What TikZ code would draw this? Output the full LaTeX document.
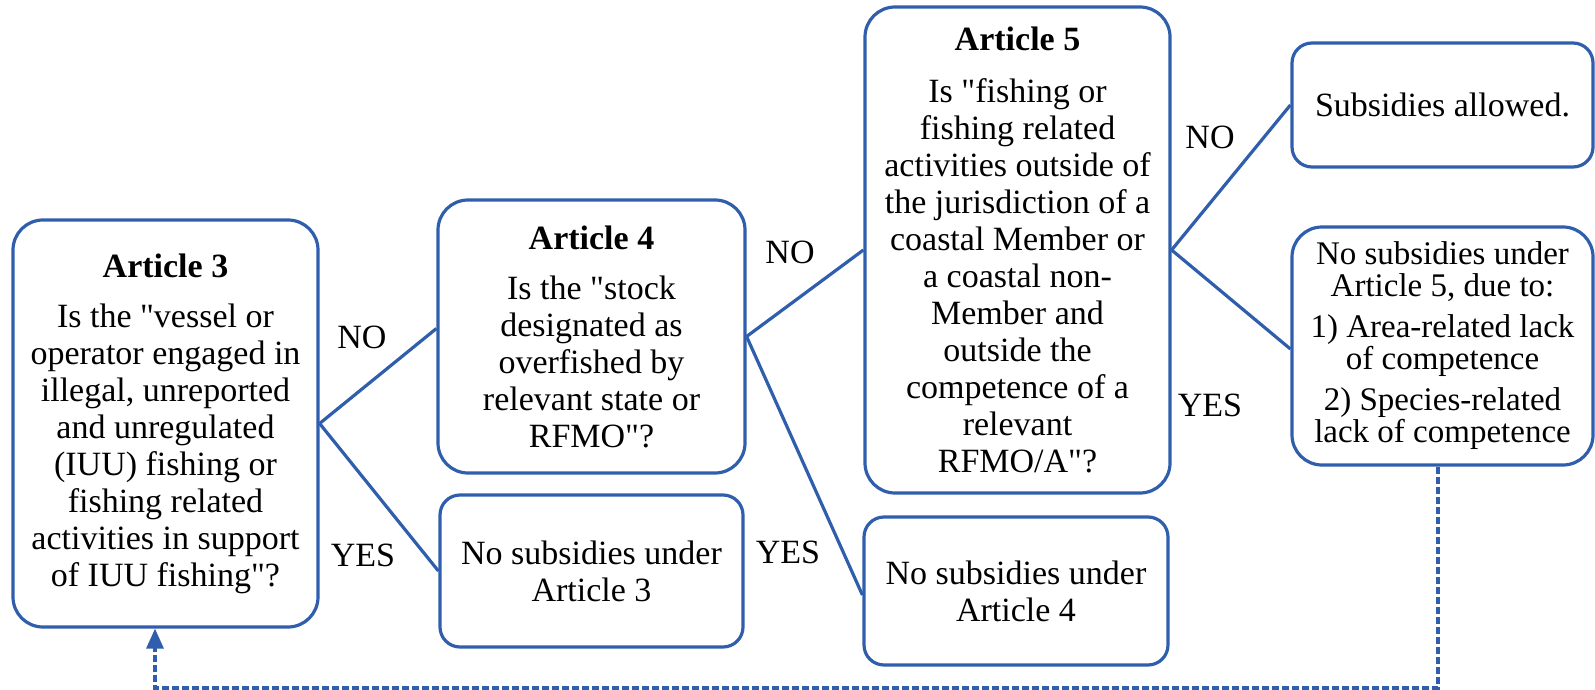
\documentclass[tikz,border=0pt]{standalone}
\usepackage{fontspec}
\setmainfont{Liberation Serif}[Ligatures=TeXOff]
\usetikzlibrary{arrows.meta}
\definecolor{lineblue}{RGB}{47,94,172}
\newcommand\qq{\symbol{34}}
\begin{document}
\begin{tikzpicture}[x=1pt,y=-1pt,
  box/.style={draw=lineblue, line width=3.2pt, rounded corners=30pt, align=center,
    inner sep=0pt, font=\fontsize{34}{37}\selectfont, text=black},
  conn/.style={draw=lineblue, line width=3.2pt},
  lbl/.style={font=\fontsize{34}{37}\selectfont, text=black, inner sep=0pt},
  back/.style={draw=lineblue, line width=3.2pt, dash pattern=on 7pt off 3pt}
]
\useasboundingbox (0,0) rectangle (1595,690);

\node[box, minimum width=305pt, minimum height=407pt] (art3) at (165.5,423.5)
 {\textbf{Article 3}\\[13pt]
  Is the \qq vessel or\\operator engaged in\\illegal, unreported\\and unregulated\\(IUU) fishing or\\fishing related\\activities in support\\of IUU fishing\qq?};

\node[box, minimum width=307pt, minimum height=273pt] (art4) at (591.5,336.5)
 {\textbf{Article 4}\\[13pt]
  Is the \qq stock\\designated as\\overfished by\\relevant state or\\RFMO\qq?};

\node[box, minimum width=305pt, minimum height=486pt] (art5) at (1017.5,250)
 {\textbf{Article 5}\\[15pt]
  Is \qq fishing or\\fishing related\\activities outside of\\the jurisdiction of a\\coastal Member or\\a coastal non-\\Member and\\outside the\\competence of a\\relevant\\RFMO/A\qq?};

\node[box, minimum width=301pt, minimum height=124pt, rounded corners=20pt] (sa) at (1442.5,105)
 {Subsidies allowed.};

\node[box, minimum width=301pt, minimum height=238pt, font=\fontsize{33}{32}\selectfont] (ns5) at (1442.5,346)
 {No subsidies under\\Article 5, due to:\\[9pt]
  1) Area-related lack\\of competence\\[9pt]
  2) Species-related\\lack of competence};

\node[box, minimum width=303pt, minimum height=152pt, rounded corners=20pt] (ns3) at (591.5,571)
 {No subsidies under\\Article 3};

\node[box, minimum width=304pt, minimum height=148pt, rounded corners=20pt] (ns4) at (1016,591)
 {No subsidies under\\Article 4};

\draw[conn] (art3.east) -- ([yshift=8pt]art4.west);
\draw[conn] (art3.east) -- (ns3.west);
\draw[conn] (art4.east) -- (art5.west);
\draw[conn] (art4.east) -- ([yshift=-4pt]ns4.west);
\draw[conn] (art5.east) -- (sa.west);
\draw[conn] (art5.east) -- ([yshift=-3pt]ns5.west);

\node[lbl] (no1) at (362,337) {NO};
\node[lbl] (yes1) at (363,555) {YES};
\node[lbl] (no2) at (790,252) {NO};
\node[lbl] (yes2) at (788,552) {YES};
\node[lbl] (no3) at (1210,137) {NO};
\node[lbl] (yes3) at (1210,405) {YES};

\coordinate (d1) at (1438,688);
\coordinate (d2) at (155,688);
\draw[back, -{Triangle[length=20pt,width=17pt]}] ([xshift=-4.5pt]ns5.south) -- (d1) -- (d2) -- ([xshift=-10.5pt]art3.south);
\end{tikzpicture}
\end{document}
